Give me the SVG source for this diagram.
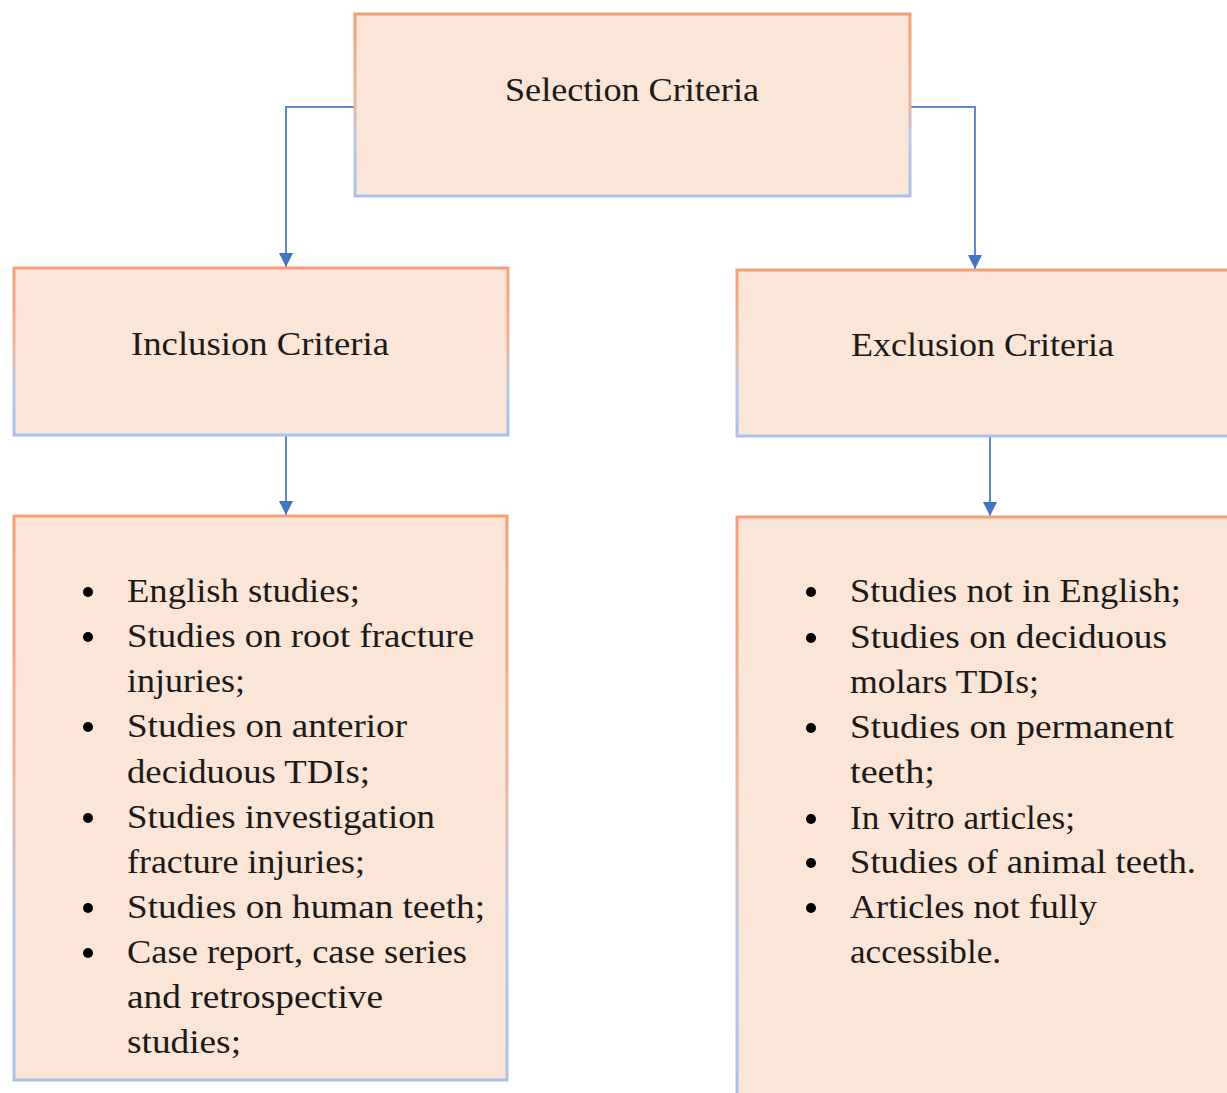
<svg xmlns="http://www.w3.org/2000/svg" width="1227" height="1093" viewBox="0 0 1227 1093">
<defs>
<linearGradient id="edge" x1="0" y1="0" x2="0" y2="1">
<stop offset="0" stop-color="#F4A074"/>
<stop offset="0.45" stop-color="#EFB49A"/>
<stop offset="0.7" stop-color="#B9C8EA"/>
<stop offset="1" stop-color="#A9C0EC"/>
</linearGradient>
<marker id="arr" viewBox="0 0 14 14" refX="14" refY="7" markerWidth="14" markerHeight="14" markerUnits="userSpaceOnUse" orient="auto">
<path d="M0,0 L14,7 L0,14 Z" fill="#4472C4"/>
</marker>
</defs>
<style>
.box{fill:#FBE5D6;stroke:url(#edge);stroke-width:3}
.t{font-family:"Liberation Serif","Times New Roman",serif;font-size:33px;fill:#1a1a1a}
.c{stroke:#5F86D2;stroke-width:2;fill:none}
.b{fill:#000}
</style>
<rect width="1227" height="1093" fill="#fff"/>
<g id="connectors">
<path class="c" d="M354,107 H286 V267" marker-end="url(#arr)"/>
<path class="c" d="M911,107 H975 V269" marker-end="url(#arr)"/>
<path class="c" d="M286,436 V515" marker-end="url(#arr)"/>
<path class="c" d="M990,437 V516" marker-end="url(#arr)"/>
</g>
<g id="selection">
<rect class="box" x="355" y="14" width="555" height="182"/>
<text class="t" x="505" y="101" textLength="254" lengthAdjust="spacingAndGlyphs">Selection Criteria</text>
</g>
<g id="inclusion">
<rect class="box" x="14" y="268" width="494" height="167"/>
<text class="t" x="131" y="355" textLength="258" lengthAdjust="spacingAndGlyphs">Inclusion Criteria</text>
</g>
<g id="exclusion">
<rect class="box" x="737" y="270" width="500" height="166"/>
<text class="t" x="851" y="356" textLength="263" lengthAdjust="spacingAndGlyphs">Exclusion Criteria</text>
</g>
<g id="inclusion-list">
<rect class="box" x="14" y="516" width="493" height="564"/>
<circle class="b" cx="88" cy="592" r="5"/>
<circle class="b" cx="88" cy="637" r="5"/>
<circle class="b" cx="88" cy="727" r="5"/>
<circle class="b" cx="88" cy="818" r="5"/>
<circle class="b" cx="88" cy="908" r="5"/>
<circle class="b" cx="88" cy="953" r="5"/>
<text class="t" x="127" y="602" textLength="233" lengthAdjust="spacingAndGlyphs">English studies;</text>
<text class="t" x="127" y="647" textLength="347" lengthAdjust="spacingAndGlyphs">Studies on root fracture</text>
<text class="t" x="127" y="692" textLength="118" lengthAdjust="spacingAndGlyphs">injuries;</text>
<text class="t" x="127" y="737" textLength="280" lengthAdjust="spacingAndGlyphs">Studies on anterior</text>
<text class="t" x="127" y="783" textLength="243" lengthAdjust="spacingAndGlyphs">deciduous TDIs;</text>
<text class="t" x="127" y="828" textLength="308" lengthAdjust="spacingAndGlyphs">Studies investigation</text>
<text class="t" x="127" y="873" textLength="238" lengthAdjust="spacingAndGlyphs">fracture injuries;</text>
<text class="t" x="127" y="918" textLength="358" lengthAdjust="spacingAndGlyphs">Studies on human teeth;</text>
<text class="t" x="127" y="963" textLength="340" lengthAdjust="spacingAndGlyphs">Case report, case series</text>
<text class="t" x="127" y="1008" textLength="256" lengthAdjust="spacingAndGlyphs">and retrospective</text>
<text class="t" x="127" y="1053" textLength="114" lengthAdjust="spacingAndGlyphs">studies;</text>
</g>
<g id="exclusion-list">
<rect class="box" x="737" y="517" width="500" height="590"/>
<circle class="b" cx="811" cy="592" r="5"/>
<circle class="b" cx="811" cy="638" r="5"/>
<circle class="b" cx="811" cy="728" r="5"/>
<circle class="b" cx="811" cy="819" r="5"/>
<circle class="b" cx="811" cy="863" r="5"/>
<circle class="b" cx="811" cy="908" r="5"/>
<text class="t" x="850" y="602" textLength="331" lengthAdjust="spacingAndGlyphs">Studies not in English;</text>
<text class="t" x="850" y="648" textLength="317" lengthAdjust="spacingAndGlyphs">Studies on deciduous</text>
<text class="t" x="850" y="693" textLength="189" lengthAdjust="spacingAndGlyphs">molars TDIs;</text>
<text class="t" x="850" y="738" textLength="324" lengthAdjust="spacingAndGlyphs">Studies on permanent</text>
<text class="t" x="850" y="783" textLength="85" lengthAdjust="spacingAndGlyphs">teeth;</text>
<text class="t" x="850" y="829" textLength="225" lengthAdjust="spacingAndGlyphs">In vitro articles;</text>
<text class="t" x="850" y="873" textLength="346" lengthAdjust="spacingAndGlyphs">Studies of animal teeth.</text>
<text class="t" x="850" y="918" textLength="247" lengthAdjust="spacingAndGlyphs">Articles not fully</text>
<text class="t" x="850" y="963" textLength="151" lengthAdjust="spacingAndGlyphs">accessible.</text>
</g>
</svg>
